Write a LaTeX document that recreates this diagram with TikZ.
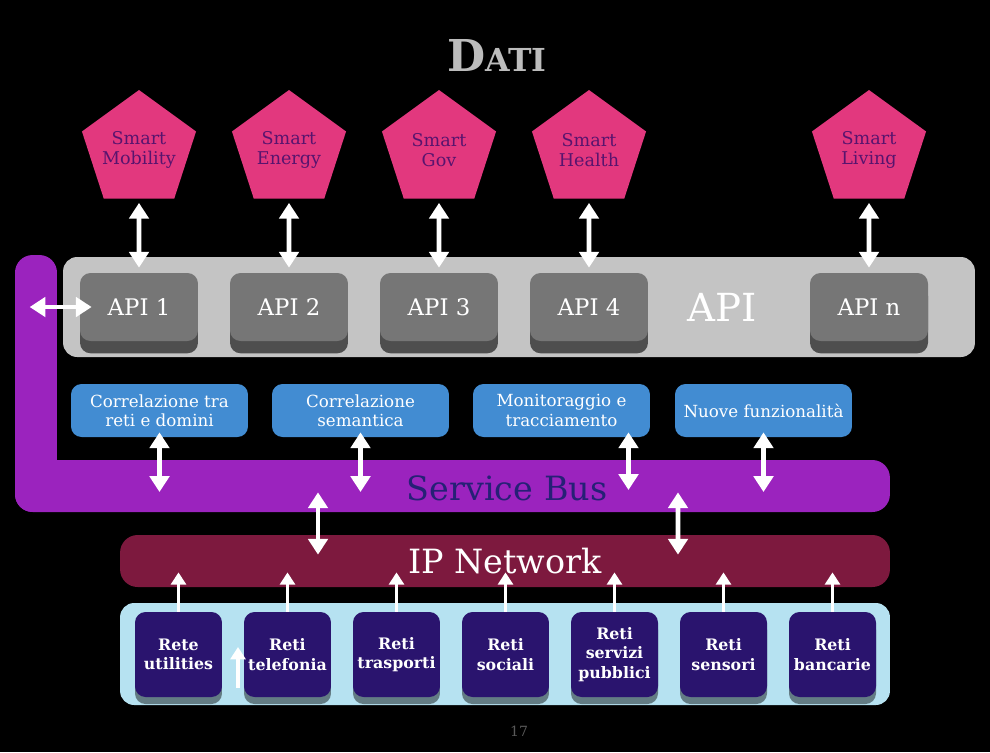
\documentclass[tikz,border=0pt]{standalone}
\usepackage{fontspec}
\setmainfont{DejaVu Serif}
\usetikzlibrary{arrows.meta,positioning,shapes.geometric,shadows,calc}
\definecolor{smart}{RGB}{226,56,126}
\definecolor{smarttxt}{RGB}{88,20,110}
\definecolor{apilight}{RGB}{196,196,196}
\definecolor{apidark}{RGB}{118,118,118}
\definecolor{bus}{RGB}{155,35,190}
\definecolor{bustxt}{RGB}{38,32,118}
\definecolor{func}{RGB}{66,140,210}
\definecolor{ipnet}{RGB}{125,25,62}
\definecolor{panel}{RGB}{182,226,241}
\definecolor{netbox}{RGB}{42,20,110}
\definecolor{titlegray}{RGB}{188,188,188}

\begin{document}
\begin{tikzpicture}[x=0.02cm, y=-0.02cm,
  dom/.style={regular polygon, regular polygon sides=5, minimum size=2.4cm, inner sep=-12pt,
    fill=smart, text=smarttxt, align=center, font=\fontsize{10}{11.5}\selectfont},
  apibox/.style={rounded corners=6pt, fill=apidark, minimum width=2.36cm, minimum height=1.36cm,
    text=white, font=\fontsize{13}{15}\selectfont,
    drop shadow={shadow xshift=0pt, shadow yshift=-7pt, fill=black, opacity=.6}},
  funcbox/.style={rounded corners=6pt, fill=func, minimum width=3.54cm, minimum height=1.06cm,
    text=white, align=center, font=\fontsize{9.5}{11}\selectfont,
    drop shadow={shadow xshift=0pt, shadow yshift=-3pt, fill=black, opacity=.3}},
  netnode/.style={rounded corners=6pt, fill=netbox, minimum width=1.74cm, minimum height=1.7cm,
    text=white, align=center, inner sep=1pt, font=\bfseries\fontsize{9}{11}\selectfont,
    drop shadow={shadow xshift=0pt, shadow yshift=-4pt, fill=black, opacity=.45}},
  dbl/.style={{Triangle[width=11pt,length=9pt]}-{Triangle[width=11pt,length=9pt]}, line width=2.6pt, white},
  up/.style={-{Triangle[width=8.5pt,length=7pt]}, line width=2pt, white}]

\fill[black] (0,0) rectangle (990,752);

\node[text=titlegray, font=\bfseries] (title) at (497,55)
  {\fontsize{25}{25}\selectfont D\fontsize{18}{18}\selectfont ATI};

% domini
\node[dom] (mob) at (139,150) {Smart\\Mobility};
\node[dom] (ene) at (289,150) {Smart\\Energy};
\node[dom] (gov) at (439,150) {Smart\\Gov};
\node[dom] (hea) at (589,150) {Smart\\Health};
\node[dom] (liv) at (869,150) {Smart\\Living};

% service bus
\node[fill=bus, rounded corners=10pt, minimum width=0.84cm, minimum height=5.14cm] (busv) at (36,383.5) {};
\node[fill=bus, rounded corners=10pt, minimum width=17.5cm, minimum height=1.04cm] (bus) at (452.5,486) {};
\node[text=bustxt, font=\fontsize{19}{22}\selectfont] (bustext) at (507,488) {Service Bus};

% API
\node[fill=apilight, rounded corners=8pt, minimum width=18.24cm, minimum height=2cm] (apibar) at (519,307) {};
\node[apibox] (api1) at (139,307) {API 1};
\node[apibox] (api2) at (289,307) {API 2};
\node[apibox] (api3) at (439,307) {API 3};
\node[apibox] (api4) at (589,307) {API 4};
\node[apibox] (apin) at (869,307) {API n};
\node[text=white, font=\fontsize{22}{24}\selectfont] (apilabel) at (722,307) {API};

\draw[dbl] ($(mob.south)+(0,4)$) -- ($(api1.north)+(0,-5)$);
\draw[dbl] ($(ene.south)+(0,4)$) -- ($(api2.north)+(0,-5)$);
\draw[dbl] ($(gov.south)+(0,4)$) -- ($(api3.north)+(0,-5)$);
\draw[dbl] ($(hea.south)+(0,4)$) -- ($(api4.north)+(0,-5)$);
\draw[dbl] ($(liv.south)+(0,4)$) -- ($(apin.north)+(0,-5)$);
\draw[dbl] ($(busv.west |- api1.west)+(15,0)$) -- ($(api1.west)+(12,0)$);

% funzionalita
\node[funcbox] (corr) at (159.5,410.5) {Correlazione tra\\reti e domini};
\node[funcbox] (sem)  at (360.5,410.5) {Correlazione\\semantica};
\node[funcbox] (mon)  at (561.5,410.5) {Monitoraggio e\\tracciamento};
\node[funcbox] (nuove) at (763.5,410.5) {Nuove funzionalità};

\draw[dbl] ($(corr.south)+(0,-5)$) -- ($(corr.south |- bus.center)+(0,6)$);
\draw[dbl] ($(sem.south)+(0,-5)$) -- ($(sem.south |- bus.center)+(0,6)$);
\draw[dbl] ($(mon.south)+(67,-5)$) -- ($(mon.south |- bus.center)+(67,4)$);
\draw[dbl] ($(nuove.south)+(0,-5)$) -- ($(nuove.south |- bus.center)+(0,6)$);

% IP network
\node[fill=ipnet, rounded corners=10pt, minimum width=15.4cm, minimum height=1.04cm,
  text=white, font=\fontsize{19}{21}\selectfont] (ip) at (505,561) {IP Network};

\draw[dbl] ($(bus.south)+(-134.5,-20)$) -- ($(ip.north)+(-187,20)$);
\draw[dbl] ($(bus.south)+(225.5,-20)$) -- ($(ip.north)+(173,20)$);

% reti
\node[fill=panel, rounded corners=8pt, minimum width=15.4cm, minimum height=2.04cm] (panel) at (505,654) {};
\node[netnode] (n1) at (178.5,654.5) {Rete\\utilities};
\node[netnode] (n2) at (287.5,654.5) {Reti\\telefonia};
\node[netnode] (n3) at (396.5,654.5) {Reti\\trasporti};
\node[netnode] (n4) at (505.5,654.5) {Reti\\sociali};
\node[netnode] (n5) at (614.5,654.5) {Reti\\servizi\\pubblici};
\node[netnode] (n6) at (723.5,654.5) {Reti\\sensori};
\node[netnode] (n7) at (832.5,654.5) {Reti\\bancarie};

\draw[up] (n1.north) -- ($(n1.north |- ip.south)+(0,-15)$);
\draw[up] (n2.north) -- ($(n2.north |- ip.south)+(0,-15)$);
\draw[up] (n3.north) -- ($(n3.north |- ip.south)+(0,-15)$);
\draw[up] (n4.north) -- ($(n4.north |- ip.south)+(0,-15)$);
\draw[up] (n5.north) -- ($(n5.north |- ip.south)+(0,-15)$);
\draw[up] (n6.north) -- ($(n6.north |- ip.south)+(0,-15)$);
\draw[up] (n7.north) -- ($(n7.north |- ip.south)+(0,-15)$);

\coordinate (s0) at (238,688);
\coordinate (s1) at (238,647);
\draw[up] (s0) -- (s1);

\node[text=gray!70!black, font=\fontsize{8}{8}\selectfont] (page) at (519,731) {17};
\end{tikzpicture}
\end{document}
